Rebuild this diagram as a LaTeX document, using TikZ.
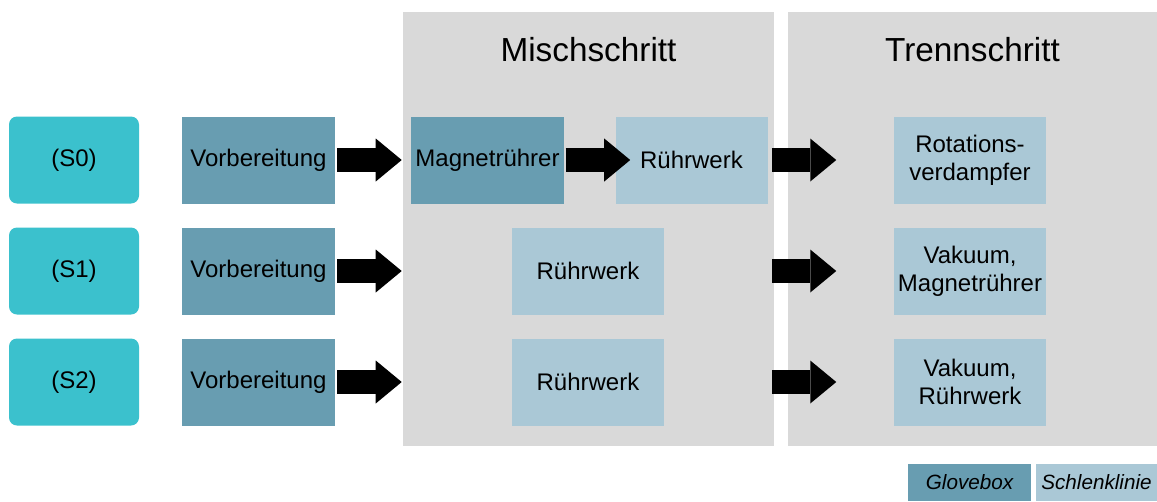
\documentclass[tikz,border=0pt]{standalone}
\usepackage{fontspec}
\setmainfont{Liberation Sans}
\usetikzlibrary{arrows.meta}
\definecolor{panelgray}{HTML}{D9D9D9}
\definecolor{stepteal}{HTML}{3BC1CD}
\definecolor{gloveblue}{HTML}{689DB1}
\definecolor{schlenkblue}{HTML}{AAC8D6}
\begin{document}
\begin{tikzpicture}[x=0.75pt,y=-0.75pt,
  txt/.style={font=\fontsize{18}{21}\selectfont, align=center, text=black, inner sep=0pt},
  sbox/.style={txt, fill=stepteal, rounded corners=6pt, minimum width=97.5pt, minimum height=65.25pt},
  gbox/.style={txt, fill=gloveblue, minimum width=114.75pt, minimum height=65.25pt},
  lbox/.style={txt, fill=schlenkblue, minimum width=114pt, minimum height=65.25pt},
  title/.style={font=\fontsize{25}{30}\selectfont, text=black, inner sep=0pt},
  legend/.style={font=\fontsize{15.5}{18}\selectfont\itshape, text=black, inner sep=0pt, minimum height=27.75pt},
  blockarrow/.style={draw=black, line width=18pt, -{Triangle[width=32.25pt,length=19.5pt,line width=0pt]}}
]
\useasboundingbox (0,0) rectangle (1157,501);
% panels
\fill[panelgray] (403,12) rectangle (774,446);
\fill[panelgray] (788,12) rectangle (1157,446);
\node[title] (tmisch) at (588.5,50) {Mischschritt};
\node[title] (ttrenn) at (972.5,50) {Trennschritt};
% row 0
\node[sbox] (s0) at (74,160) {(S0)};
\node[gbox] (v0) at (258.5,160) {Vorbereitung};
\node[gbox] (m0) at (487.5,160) {Magnetrührer};
\node[lbox] (r0) at (691.5,160) {Rührwerk};
\node[lbox] (t0) at (970,160) {Rotations-\\verdampfer};
% row 1
\node[sbox] (s1) at (74,271) {(S1)};
\node[gbox] (v1) at (258.5,271) {Vorbereitung};
\node[lbox] (r1) at (588,271) {Rührwerk};
\node[lbox] (t1) at (970,271) {Vakuum,\\Magnetrührer};
% row 2
\node[sbox] (s2) at (74,382) {(S2)};
\node[gbox] (v2) at (258.5,382) {Vorbereitung};
\node[lbox] (r2) at (588,382) {Rührwerk};
\node[lbox] (t2) at (970,382) {Vakuum,\\Rührwerk};
% arrows
\draw[blockarrow, shorten <=1.5pt, shorten >=6.75pt] (v0.east) -- (m0.west);
\draw[blockarrow, shorten <=1pt, shorten >=-11.25pt] (m0.east) -- (r0.west);
\draw[blockarrow, shorten <=3pt, shorten >=43.1pt] (r0.east) -- (t0.west);
\draw[blockarrow, shorten <=1.5pt, shorten >=82.5pt] (v1.east) -- (r1.west);
\draw[blockarrow, shorten <=81pt, shorten >=43.1pt] (r1.east) -- (t1.west);
\draw[blockarrow, shorten <=1.5pt, shorten >=82.5pt] (v2.east) -- (r2.west);
\draw[blockarrow, shorten <=81pt, shorten >=43.1pt] (r2.east) -- (t2.west);
% legend
\node[legend, fill=gloveblue, minimum width=92.25pt] (lg) at (969.5,482.5) {Glovebox};
\node[legend, fill=schlenkblue, minimum width=90.75pt] (ls) at (1096.5,482.5) {Schlenklinie};
\end{tikzpicture}
\end{document}
